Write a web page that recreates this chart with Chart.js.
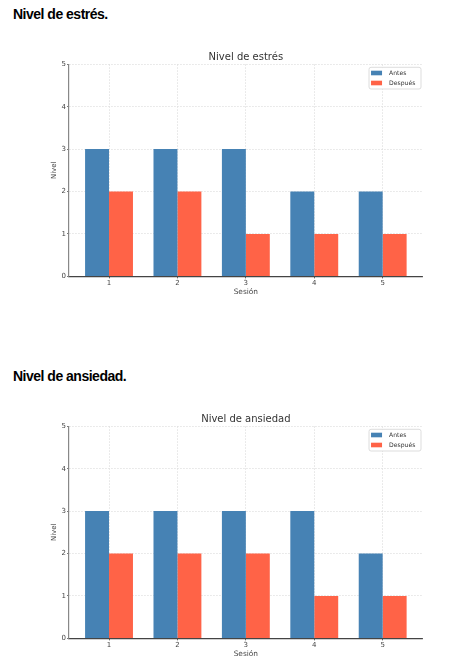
<!DOCTYPE html>
<html><head><meta charset="utf-8">
<script src="https://cdn.jsdelivr.net/npm/chart.js@4.4.1/dist/chart.umd.min.js"></script>
<style>
html,body{margin:0;padding:0;background:#fff;width:462px;height:665px;overflow:hidden;}
h2{position:absolute;left:13px;margin:0;font:bold 14px/16px "Liberation Sans",Arial,sans-serif;letter-spacing:-0.5px;color:#000;white-space:nowrap;}
.wrap{position:absolute;left:0;width:462px;height:260px;}
</style></head><body>
<h2 style="top:6px">Nivel de estrés.</h2>
<div class="wrap" style="top:40px"><canvas id="c1"></canvas></div>
<h2 style="top:368px">Nivel de ansiedad.</h2>
<div class="wrap" style="top:402px"><canvas id="c2"></canvas></div>
<script>
const sessions = [1, 2, 3, 4, 5];
const xTickLabels = ['1', '2', '3', '4', '5'];
const yTicks = [0, 1, 2, 3, 4, 5];
const yTickLabels = ['0', '1', '2', '3', '4', '5'];
const seriesNames = ['Antes', 'Después'];
const estresAntes = [3, 3, 3, 2, 2];
const estresDespues = [2, 2, 1, 1, 1];
const ansiedadAntes = [3, 3, 3, 3, 2];
const ansiedadDespues = [2, 2, 2, 1, 1];
const seriesColors = ['#4682B4', '#FF6347'];

const insideLegend = {
  id: 'insideLegend',
  afterDraw(chart) {
    const {ctx, chartArea} = chart;
    ctx.save();
    ctx.font = '6.1px "DejaVu Sans"';
    const labels = chart.data.datasets.map(d => d.label);
    const tw = Math.max(...labels.map(l => ctx.measureText(l).width));
    const w = 20 + tw + 5.7, h = 21.7;
    const x = chartArea.right - 1.7 - w, y = chartArea.top + 3;
    ctx.fillStyle = 'rgba(255,255,255,0.9)';
    ctx.strokeStyle = '#d4d4d4';
    ctx.lineWidth = 0.8;
    ctx.beginPath();
    ctx.roundRect(x, y, w, h, 2);
    ctx.fill();
    ctx.stroke();
    chart.data.datasets.forEach((d, i) => {
      const cy = y + 5.7 + i * 10;
      ctx.fillStyle = d.backgroundColor;
      ctx.fillRect(x + 2, cy - 2.3, 11, 4.6);
      ctx.fillStyle = '#333';
      ctx.textBaseline = 'middle';
      ctx.textAlign = 'left';
      ctx.fillText(d.label, x + 20, cy);
    });
    ctx.restore();
  }
};

const dj = 'DejaVu Sans';

function makeChart(id, title, antes, despues) {
  new Chart(document.getElementById(id), {
    type: 'bar',
    data: {
      datasets: [
        {label: seriesNames[0], data: sessions.map((s, i) => ({x: s, y: antes[i]})), backgroundColor: seriesColors[0], categoryPercentage: 0.7, barPercentage: 1.0},
        {label: seriesNames[1], data: sessions.map((s, i) => ({x: s, y: despues[i]})), backgroundColor: seriesColors[1], categoryPercentage: 0.7, barPercentage: 1.0}
      ]
    },
    options: {
      responsive: true,
      maintainAspectRatio: false,
      animation: false,
      layout: {padding: {left: 0, right: 39.3, top: 0, bottom: 0}},
      plugins: {
        legend: {display: false},
        tooltip: {enabled: false},
        title: {display: true, fullSize: false, text: title, color: '#333', font: {family: dj, size: 10, weight: 'normal'}, padding: {top: 11.3, bottom: 1}}
      },
      scales: {
        x: {
          type: 'linear', min: 0.415, max: 5.585, offset: false,
          afterBuildTicks(s) { s.ticks = sessions.map(v => ({value: v})); },
          afterFit(s) { s.height = 23.7; },
          ticks: {callback: (v, i) => xTickLabels[i], font: {family: dj, size: 7}, color: '#444', padding: 1, maxRotation: 0, autoSkip: false},
          grid: {offset: false, color: '#dcdcdc', lineWidth: 0.8, tickLength: 2, tickColor: '#444', tickWidth: 1},
          border: {color: '#444', width: 1.2, dash: [1.5, 1.5]},
          title: {display: true, text: 'Sesión', font: {family: dj, size: 7.4}, color: '#444', padding: {top: 0, bottom: 3.55}}
        },
        y: {
          min: 0, max: 5,
          afterBuildTicks(s) { s.ticks = yTicks.map(v => ({value: v})); },
          afterFit(s) { s.width = 69; },
          ticks: {callback: (v, i) => yTickLabels[i], font: {family: dj, size: 7}, color: '#444', padding: 1},
          grid: {color: '#dcdcdc', lineWidth: 0.8, tickLength: 2, tickColor: '#777', tickWidth: 1},
          border: {color: '#888', width: 1.2, dash: [1.5, 1.5]},
          title: {display: true, text: 'Nivel', font: {family: dj, size: 7}, color: '#444', padding: {top: 50, bottom: 0}}
        }
      }
    },
    plugins: [insideLegend]
  });
}

makeChart('c1', 'Nivel de estrés', estresAntes, estresDespues);
makeChart('c2', 'Nivel de ansiedad', ansiedadAntes, ansiedadDespues);
</script>
</body></html>
